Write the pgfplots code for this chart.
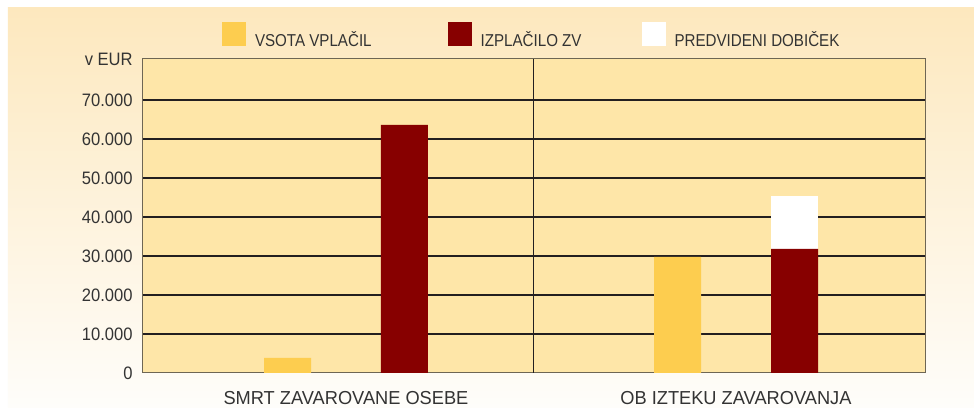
\documentclass[border=0pt]{standalone}
\usepackage{pgfplots}
\pgfplotsset{compat=1.18}
\usepackage{fontspec}
\setmainfont[FakeStretch=0.88]{Liberation Sans}
\newfontfamily\xlab[FakeStretch=0.97]{Liberation Sans}
\newfontfamily\ylab[FakeStretch=0.92]{Liberation Sans}
\definecolor{bgtop}{HTML}{FDE8BE}
\definecolor{bgbot}{HTML}{FEFDFA}
\definecolor{plotbg}{HTML}{FEE6A8}
\definecolor{vsota}{HTML}{FDCD4F}
\definecolor{izpl}{HTML}{870000}
\definecolor{gridc}{HTML}{231F20}
\definecolor{axc}{HTML}{6E6654}
\definecolor{txt}{HTML}{333333}
\begin{document}
\begin{tikzpicture}[x=1pt,y=1pt,font=\fontsize{8.6pt}{10pt}\selectfont]
\fill[white] (-71,-17) rectangle (416,186.5);
\shade[top color=bgtop,bottom color=bgbot] (-67,-17) rectangle (416,182.5);
\begin{axis}[
  at={(0,0)}, anchor=south west,
  scale only axis, width=391.5pt, height=157pt,
  xmin=0, xmax=2, ymin=0, ymax=80500,
  scaled y ticks=false,
  axis background/.style={fill=plotbg},
  axis line style={axc, line width=0.5pt},
  major tick length=0pt,
  xtick={0.521,1.517},
  xticklabels={SMRT ZAVAROVANE OSEBE, OB IZTEKU ZAVAROVANJA},
  xticklabel style={anchor=north, inner sep=0pt, yshift=-9pt, text=txt, font=\xlab\fontsize{9.4pt}{11pt}\selectfont},
  extra x ticks={1},
  extra x tick labels={},
  extra x tick style={grid=major, major grid style={gridc, line width=0.65pt}},
  ytick={10000,20000,30000,40000,50000,60000,70000},
  yticklabels={10.000,20.000,30.000,40.000,50.000,60.000,70.000},
  extra y ticks={0,80500},
  extra y tick labels={0,v EUR},
  extra y tick style={grid=none},
  yticklabel style={anchor=east, inner sep=0pt, xshift=-4.5pt, text=txt, font=\ylab\fontsize{9pt}{11pt}\selectfont},
  ymajorgrids,
  major grid style={gridc, line width=0.65pt},
  legend columns=3,
  legend style={draw=none, fill=none, inner sep=0pt, outer sep=0pt,
    at={(axis description cs:0,1)}, anchor=west, xshift=40pt, yshift=11.5pt,
    column sep=0pt, nodes={inner sep=0pt, text=txt},
    /tikz/column 2/.style={column sep=38pt},
    /tikz/column 4/.style={column sep=30pt}},
  legend image code/.code={\fill[#1] (0pt,-3pt) rectangle (12pt,9pt); \path (16.5pt,0pt);},
]
\addplot[ybar, bar width=0.12, bar shift=0pt, fill=vsota, draw=none]
  coordinates {(0.372,3900) (1.368,29800)};
\addlegendentry{VSOTA VPLAČIL}
\addplot[ybar, bar width=0.12, bar shift=0pt, fill=white, draw=none, forget plot]
  coordinates {(1.667,45400)};
\addplot[ybar, bar width=0.12, bar shift=0pt, fill=izpl, draw=none]
  coordinates {(0.670,63600) (1.667,31800)};
\addlegendentry{IZPLAČILO ZV}
\addlegendimage{fill=white, draw=none}
\addlegendentry{PREDVIDENI DOBIČEK}
\end{axis}
\end{tikzpicture}
\end{document}
